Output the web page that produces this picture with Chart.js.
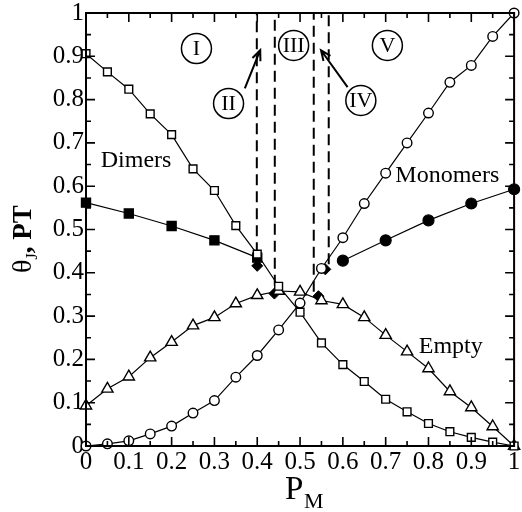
<!DOCTYPE html>
<html>
<head>
<meta charset="utf-8">
<script src="https://cdn.jsdelivr.net/npm/chart.js@4.4.0/dist/chart.umd.min.js"></script>
<style>
body{margin:0;background:#fff;}
#wrap{width:522px;height:512px;position:relative;}
</style>
</head>
<body>
<div id="wrap"><canvas id="phase"></canvas></div>
<script>
// P_M grid used by the three full curves
var pm = [0,0.05,0.1,0.15,0.2,0.25,0.3,0.35,0.4,0.45,0.5,0.55,0.6,0.65,0.7,0.75,0.8,0.85,0.9,0.95,1];
var dimers   = [0.906,0.864,0.824,0.767,0.719,0.640,0.590,0.509,0.443,0.369,0.309,0.238,0.188,0.149,0.108,0.079,0.052,0.033,0.020,0.009,0];
var monomers = [0,0.005,0.012,0.028,0.046,0.076,0.105,0.159,0.209,0.268,0.330,0.410,0.481,0.560,0.630,0.700,0.769,0.840,0.879,0.946,1.0];
var empty    = [0.093,0.132,0.160,0.204,0.240,0.278,0.297,0.329,0.348,0.358,0.356,0.336,0.327,0.297,0.256,0.218,0.179,0.126,0.089,0.045,0];

// PT curves (filled symbols)
var pmDimersPT = [0,0.1,0.2,0.3,0.4];
var dimersPT   = [0.562,0.537,0.508,0.475,0.435];
var pmMonoPT   = [0.6,0.7,0.8,0.9,1];
var monoPT     = [0.428,0.475,0.521,0.560,0.593];

// transition points (diamonds) and dashed boundaries
var pmDiamond = [0.40,0.44,0.543,0.559];
var diamond   = [0.416,0.352,0.346,0.408];
var pmBound   = [0.399,0.441,0.532,0.567];
var boundLow  = [0.445,0.370,0.356,0.420];

var regions = ['I','II','III','IV','V'];
var regionX = [0.258,0.333,0.485,0.642,0.704];
var regionY = [0.918,0.791,0.925,0.798,0.925];

function pts(xs, ys){
    var out=[];
    for(var i=0;i<xs.length;i++){ out.push({x:xs[i], y:ys[i]}); }
    return out;
}

var serif = "'Liberation Serif', 'Times New Roman', serif";

var datasets = [
    {label:'Dimers', data:pts(pm,dimers), borderColor:'#000', borderWidth:1.2, pointStyle:'rect', pointRadius:5.5,
     pointBackgroundColor:'#fff', pointBorderColor:'#000', pointBorderWidth:1.4, clip:false},
    {label:'Monomers', data:pts(pm,monomers), borderColor:'#000', borderWidth:1.2, pointStyle:'circle', pointRadius:4.8,
     pointBackgroundColor:'#fff', pointBorderColor:'#000', pointBorderWidth:1.4, clip:false},
    {label:'Empty', data:pts(pm,empty), borderColor:'#000', borderWidth:1.2, pointStyle:'triangle', pointRadius:6.5,
     pointBackgroundColor:'#fff', pointBorderColor:'#000', pointBorderWidth:1.4, clip:false},
    {label:'Dimers PT', data:pts(pmDimersPT,dimersPT), borderColor:'#000', borderWidth:1.2, pointStyle:'rect', pointRadius:6.5,
     pointBackgroundColor:'#000', pointBorderColor:'#000', clip:false},
    {label:'Monomers PT', data:pts(pmMonoPT,monoPT), borderColor:'#000', borderWidth:1.2, pointStyle:'circle', pointRadius:5.5,
     pointBackgroundColor:'#000', pointBorderColor:'#000', clip:false},
    {label:'Transitions', data:pts(pmDiamond,diamond), showLine:false, pointStyle:'rectRot', pointRadius:5.5,
     pointBackgroundColor:'#000', pointBorderColor:'#000', clip:false}
];
for(var b=0;b<pmBound.length;b++){
    datasets.push({label:'bound'+b, data:[{x:pmBound[b],y:boundLow[b]},{x:pmBound[b],y:1}],
        borderColor:'#000', borderWidth:2, borderDash:[11,6], pointRadius:0, clip:false});
}

function arrow(ctx, x0, y0, x1, y1){
    var ang = Math.atan2(y1-y0, x1-x0), h = 11;
    ctx.beginPath();
    ctx.moveTo(x0,y0); ctx.lineTo(x1,y1);
    ctx.moveTo(x1 - h*Math.cos(ang-0.4), y1 - h*Math.sin(ang-0.4));
    ctx.lineTo(x1,y1);
    ctx.lineTo(x1 - h*Math.cos(ang+0.4), y1 - h*Math.sin(ang+0.4));
    ctx.stroke();
}

var decor = {
    id:'decor',
    afterDatasetsDraw:function(chart){
        var ctx = chart.ctx, a = chart.chartArea, xs = chart.scales.x, ys = chart.scales.y;
        ctx.save();
        ctx.strokeStyle='#000';
        ctx.fillStyle='#000';
        // inward ticks on all four sides
        ctx.lineWidth=1.6;
        for(var k=0;k<=20;k++){
            var v=k/20, len=(k%2==0)?9:5;
            var px=xs.getPixelForValue(v), py=ys.getPixelForValue(v);
            ctx.beginPath();
            ctx.moveTo(px,a.bottom); ctx.lineTo(px,a.bottom-len);
            ctx.moveTo(px,a.top); ctx.lineTo(px,a.top+len);
            ctx.moveTo(a.left,py); ctx.lineTo(a.left+len,py);
            ctx.moveTo(a.right,py); ctx.lineTo(a.right-len,py);
            ctx.stroke();
        }
        ctx.lineWidth=2;
        ctx.strokeRect(a.left,a.top,a.right-a.left,a.bottom-a.top);

        // region labels in circles
        ctx.font='22px '+serif;
        ctx.textAlign='center';
        ctx.textBaseline='middle';
        ctx.lineWidth=1.5;
        for(var r=0;r<regions.length;r++){
            var cx=xs.getPixelForValue(regionX[r]), cy=ys.getPixelForValue(regionY[r]);
            ctx.beginPath();
            ctx.arc(cx,cy,15,0,Math.PI*2);
            ctx.fillStyle='#fff'; ctx.fill();
            ctx.stroke();
            ctx.fillStyle='#000';
            ctx.fillText(regions[r],cx,cy+1);
        }
        ctx.lineWidth=2;
        arrow(ctx, xs.getPixelForValue(0.371), ys.getPixelForValue(0.826), xs.getPixelForValue(0.407), ys.getPixelForValue(0.914));
        arrow(ctx, xs.getPixelForValue(0.611), ys.getPixelForValue(0.829), xs.getPixelForValue(0.549), ys.getPixelForValue(0.914));

        // curve names
        ctx.font='24px '+serif;
        ctx.textBaseline='alphabetic';
        ctx.fillText('Dimers', xs.getPixelForValue(0.117), ys.getPixelForValue(0.644));
        ctx.fillText('Monomers', xs.getPixelForValue(0.844), ys.getPixelForValue(0.609));
        ctx.fillText('Empty', xs.getPixelForValue(0.852), ys.getPixelForValue(0.215));

        // x axis title P_M
        ctx.textAlign='left';
        ctx.font='33px '+serif;
        ctx.fillText('P', 285, 499);
        ctx.font='22px '+serif;
        ctx.fillText('M', 304, 508);

        // y axis title theta_J, PT
        ctx.translate(31, 273);
        ctx.rotate(-Math.PI/2);
        ctx.font='28px '+serif;
        ctx.fillText('\u03b8', 0, 0);
        var w=ctx.measureText('\u03b8').width;
        ctx.font='16px '+serif;
        ctx.fillText('J', w, 6);
        w+=ctx.measureText('J').width;
        ctx.font='bold 27px '+serif;
        ctx.fillText(', PT', w, 0);
        ctx.restore();
    }
};

function fmt(v){
    if(Math.abs(v)<1e-9) return '0';
    if(Math.abs(v-1)<1e-9) return '1';
    return Number(v).toFixed(1);
}

new Chart(document.getElementById('phase').getContext('2d'), {
    type:'line',
    data:{datasets:datasets},
    options:{
        responsive:true,
        maintainAspectRatio:false,
        animation:false,
        layout:{padding:{left:0,right:4,top:13,bottom:0}},
        plugins:{legend:{display:false}, tooltip:{enabled:false}},
        elements:{line:{tension:0}},
        scales:{
            x:{
                type:'linear', min:0, max:1,
                grid:{display:false, drawTicks:false},
                border:{display:false},
                ticks:{stepSize:0.1, autoSkip:false, maxRotation:0, padding:1, color:'#000',
                       font:{family:serif, size:25}, callback:fmt},
                afterFit:function(s){ s.height=66; s.paddingLeft=0; s.paddingRight=0; }
            },
            y:{
                type:'linear', min:0, max:1,
                grid:{display:false, drawTicks:false},
                border:{display:false},
                ticks:{stepSize:0.1, autoSkip:false, padding:2, color:'#000',
                       font:{family:serif, size:25}, callback:fmt},
                afterFit:function(s){ s.width=86; s.paddingTop=0; s.paddingBottom=0; }
            }
        }
    },
    plugins:[decor]
});
</script>
</body>
</html>
